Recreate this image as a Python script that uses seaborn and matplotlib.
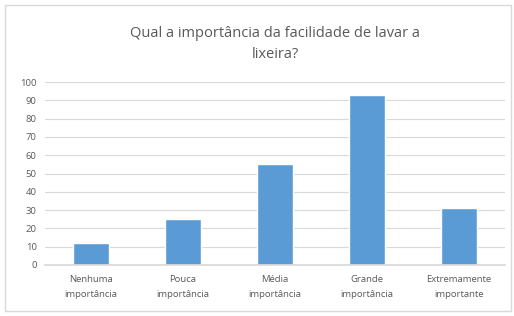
import matplotlib
matplotlib.use("Agg")
import matplotlib.pyplot as plt
import seaborn as sns
import pandas as pd

categories = ["Nenhuma\nimportância", "Pouca\nimportância", "Média\nimportância",
              "Grande\nimportância", "Extremamente\nimportante"]
values = [12, 25, 55, 93, 31]
yticks = list(range(0, 101, 10))
title = "Qual a importância da facilidade de lavar a\nlixeira?"

sns.set_theme(style="white")
plt.rcParams['font.family'] = ['Open Sans', 'DejaVu Sans']

df = pd.DataFrame({"cat": categories, "val": values})

fig = plt.figure(figsize=(5.14, 3.16), dpi=100)
ax = fig.add_axes([45/514, 1-265/316, 460/514, (265-82)/316])
sns.barplot(data=df, x="cat", y="val", color="#5B9BD5", width=0.4, ax=ax,
            saturation=1)
ax.set_ylim(0, 100)
ax.set_xlim(-0.5, 4.5)
ax.set_yticks(yticks)
ax.set_yticklabels([str(t) for t in yticks])
ax.grid(axis="y", color="#D9D9D9", linewidth=0.8)
ax.set_axisbelow(True)
for s in ["top", "right", "left"]:
    ax.spines[s].set_visible(False)
ax.spines["bottom"].set_color("#D9D9D9")
ax.tick_params(axis="both", length=0, labelsize=6.8, colors="#595959")
ax.tick_params(axis="y", pad=6)
ax.tick_params(axis="x", pad=7)
for lab in ax.get_xticklabels():
    lab.set_linespacing(1.9)
ax.set_xlabel("")
ax.set_ylabel("")
fig.text(275/514, 1-44/316, title, ha="center", va="center", fontsize=10.5,
         color="#595959", linespacing=1.55)
border = plt.Rectangle((5/514, 5/316), 506/514, 306/316, transform=fig.transFigure,
                       fill=False, edgecolor="#D9D9D9", linewidth=1)
fig.add_artist(border)
fig.savefig("out.png", dpi=100)
